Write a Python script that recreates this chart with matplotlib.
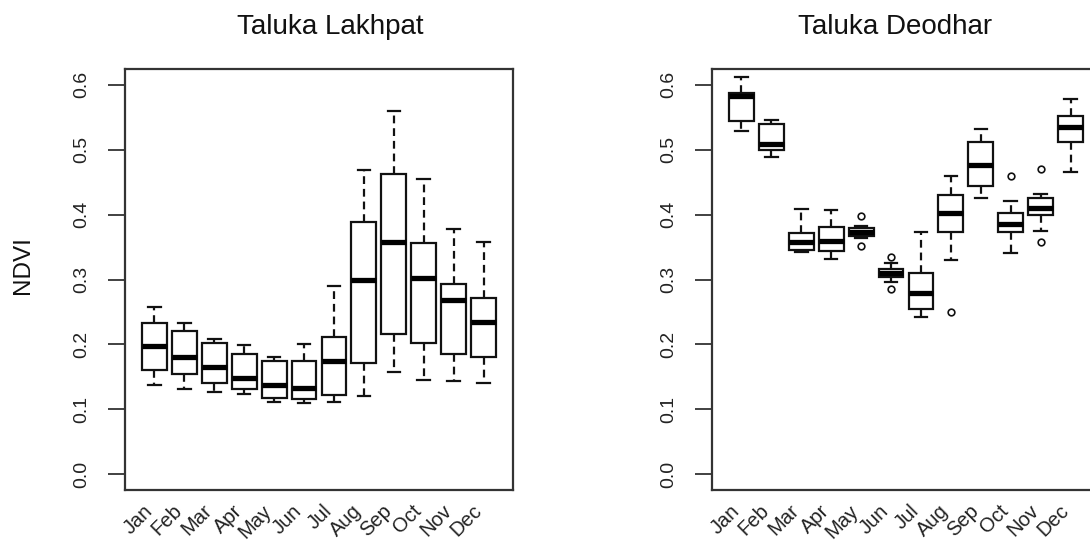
import matplotlib
matplotlib.use("Agg")
import matplotlib.pyplot as plt
from matplotlib import transforms

plt.rcParams['font.family'] = ['Liberation Sans', 'DejaVu Sans']

months = ['Jan', 'Feb', 'Mar', 'Apr', 'May', 'Jun',
          'Jul', 'Aug', 'Sep', 'Oct', 'Nov', 'Dec']

# Taluka Lakhpat
lak_whislo = [0.137, 0.132, 0.127, 0.123, 0.111, 0.110, 0.111, 0.120, 0.157, 0.146, 0.144, 0.141]
lak_q1     = [0.160, 0.154, 0.141, 0.131, 0.118, 0.116, 0.122, 0.172, 0.216, 0.203, 0.186, 0.180]
lak_med    = [0.198, 0.180, 0.166, 0.149, 0.138, 0.133, 0.174, 0.300, 0.357, 0.302, 0.268, 0.234]
lak_q3     = [0.233, 0.221, 0.203, 0.186, 0.175, 0.174, 0.211, 0.389, 0.462, 0.356, 0.293, 0.271]
lak_whishi = [0.258, 0.233, 0.208, 0.199, 0.180, 0.200, 0.290, 0.468, 0.560, 0.454, 0.378, 0.357]
lak_fliers = [[], [], [], [], [], [], [], [], [], [], [], []]

# Taluka Deodhar
deo_whislo = [0.529, 0.489, 0.342, 0.332, 0.364, 0.296, 0.242, 0.330, 0.426, 0.341, 0.375, 0.465]
deo_q1     = [0.544, 0.499, 0.345, 0.344, 0.367, 0.304, 0.254, 0.373, 0.444, 0.373, 0.400, 0.512]
deo_med    = [0.583, 0.509, 0.357, 0.360, 0.373, 0.310, 0.279, 0.403, 0.477, 0.385, 0.410, 0.534]
deo_q3     = [0.587, 0.540, 0.372, 0.381, 0.379, 0.316, 0.310, 0.430, 0.512, 0.403, 0.425, 0.552]
deo_whishi = [0.612, 0.545, 0.409, 0.407, 0.382, 0.326, 0.373, 0.459, 0.532, 0.421, 0.432, 0.578]
deo_fliers = [[], [], [], [], [0.397, 0.351], [0.335, 0.285], [], [0.250], [], [0.460], [0.470, 0.357], []]

yticks = [0.0, 0.1, 0.2, 0.3, 0.4, 0.5, 0.6]

W, H = 1090, 541
fig = plt.figure(figsize=(W / 100, H / 100), dpi=100)

def px_axes(x0, x1, y0, y1):
    return fig.add_axes([x0 / W, 1 - y1 / H, (x1 - x0) / W, (y1 - y0) / H])

edge = '#111111'
lw = 1.6

def draw(ax, wl, q1, med, q3, wh, fl):
    stats = []
    for i in range(len(months)):
        stats.append(dict(med=med[i], q1=q1[i], q3=q3[i], whislo=wl[i],
                          whishi=wh[i], fliers=fl[i]))
    ax.bxp(stats, positions=list(range(1, 13)), widths=0.83, patch_artist=True,
           showfliers=True,
           boxprops=dict(facecolor='white', edgecolor=edge, linewidth=lw),
           medianprops=dict(color='black', linewidth=3.8, solid_capstyle='butt'),
           whiskerprops=dict(color=edge, linewidth=lw, linestyle=(0, (3.5, 2.2))),
           capprops=dict(color=edge, linewidth=lw),
           capwidths=0.42,
           flierprops=dict(marker='o', markersize=4.8, markerfacecolor='none',
                           markeredgecolor=edge, markeredgewidth=1.2))
    ax.set_xlim(0.02, 12.98)
    ax.set_ylim(-0.024, 0.624)
    ax.set_yticks(yticks)
    ax.set_yticklabels([f'{v:.1f}' for v in yticks], rotation=90, va='center',
                       fontsize=14, color='#222222')
    ax.tick_params(axis='y', length=12, width=1.3, color='#333333', pad=13)
    ax.set_xticks([])
    for s in ax.spines.values():
        s.set_linewidth(1.6)
        s.set_color('#333333')
    trans = transforms.blended_transform_factory(ax.transData, ax.transAxes)
    trans = transforms.offset_copy(trans, fig=fig, x=-5, y=-18, units='dots')
    for i, m in enumerate(months):
        ax.text(i + 1, 0, m, transform=trans, rotation=45, ha='right', va='center',
                rotation_mode='anchor', fontsize=14.5, color='#222222')

ax1 = px_axes(125, 513, 69, 490)
draw(ax1, lak_whislo, lak_q1, lak_med, lak_q3, lak_whishi, lak_fliers)
ax2 = px_axes(712, 1100, 69, 490)
draw(ax2, deo_whislo, deo_q1, deo_med, deo_q3, deo_whishi, deo_fliers)

fig.text(330 / W, 1 - 27 / H, 'Taluka Lakhpat', ha='center', va='center', fontsize=20, color='#111111')
fig.text(895 / W, 1 - 27 / H, 'Taluka Deodhar', ha='center', va='center', fontsize=20, color='#111111')
fig.text(23 / W, 1 - 265 / H, 'NDVI', ha='center', va='center', rotation=90, fontsize=17.5, color='#111111')

fig.savefig('out.png', dpi=100)
